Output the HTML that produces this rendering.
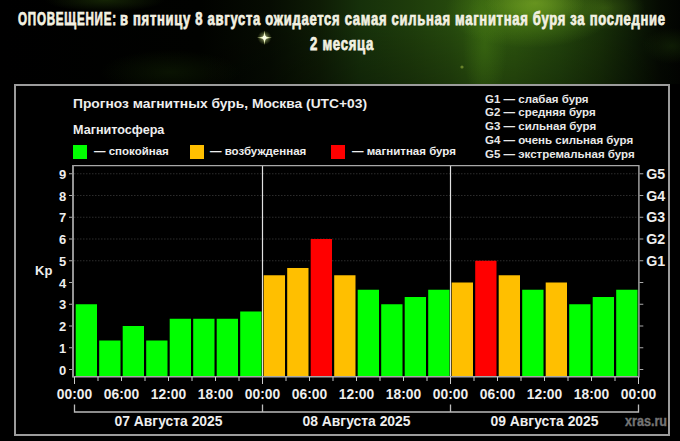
<!DOCTYPE html>
<html><head><meta charset="utf-8"><style>
html,body{margin:0;padding:0;background:#000;}
#root{position:relative;width:680px;height:441px;overflow:hidden;background:#000;font-family:"Liberation Sans",sans-serif;}
#hdr{position:absolute;left:0;top:0;width:680px;height:84px;
background:
radial-gradient(ellipse 50px 22px at 535px 3px, rgba(125,170,40,0.6), rgba(0,0,0,0) 100%),
radial-gradient(ellipse 85px 38px at 530px 10px, rgba(85,135,22,0.8), rgba(0,0,0,0) 100%),
radial-gradient(ellipse 40px 22px at 605px 8px, rgba(70,110,20,0.5), rgba(0,0,0,0) 100%),
radial-gradient(ellipse 22px 60px at 485px 45px, rgba(65,115,18,0.5), rgba(0,0,0,0) 100%),
radial-gradient(ellipse 60px 12px at 105px 0px, rgba(40,70,10,0.5), rgba(0,0,0,0) 100%),
radial-gradient(ellipse 70px 22px at 170px 72px, rgba(20,40,5,0.45), rgba(0,0,0,0) 100%),
radial-gradient(ellipse 30px 18px at 672px 46px, rgba(25,50,8,0.5), rgba(0,0,0,0) 100%),
linear-gradient(to bottom, rgba(0,0,0,0) 30%, rgba(0,0,0,0.25) 100%),
linear-gradient(to right, #000 0px, #010200 200px, #060c02 270px, #0e1c05 320px, #16300a 360px, #1e3c0b 410px, #25480d 450px, #2e580f 482px, #2c540e 515px, #22440c 560px, #183008 600px, #0c1a05 635px, #050a02 660px, #020401 680px);}
.ov{position:absolute;left:0;top:0;}
.h{position:absolute;left:0;width:680px;text-align:center;color:#f3f1e2;font-weight:bold;-webkit-text-stroke:0.75px #f3f1e2;font-size:18.5px;white-space:nowrap;}
.h span.a{position:absolute;top:0;transform-origin:0 0;}
text{font-family:"Liberation Sans",sans-serif;font-weight:bold;fill:#eee;}
.title{font-size:13.6px;}
.sub{font-size:12.6px;}
.lg{font-size:11.5px;}
.gl text{font-size:11.5px;fill:#e8e8e8;}
.ax{font-size:13px;}
.gx{font-size:14.2px;}
.xl{font-size:13.8px;}
.dl{font-size:13.9px;}
.kp{font-size:13px;}
.wm{font-size:14px;fill:#747474;stroke:#747474;stroke-width:0.35px;}
</style></head><body><div id="root">
<div id="hdr"></div>
<svg class="ov" width="680" height="90" style="position:absolute;left:0;top:0"><defs><radialGradient id="sg"><stop offset="0" stop-color="#ffffd0" stop-opacity="0.9"/><stop offset="1" stop-color="#c0e060" stop-opacity="0"/></radialGradient></defs>
<circle cx="264.5" cy="37.7" r="7" fill="url(#sg)" opacity="0.7"/>
<path d="M264.5 30.5 L265.6 36.6 L272 37.7 L265.6 38.8 L264.5 45 L263.4 38.8 L257 37.7 L263.4 36.6 Z" fill="#eaf5a8" opacity="0.75"/>
<path d="M264.5 33 L265.5 36.7 L269 37.7 L265.5 38.7 L264.5 42.5 L263.5 38.7 L260 37.7 L263.5 36.7 Z" fill="#f8ffd8"/>
<circle cx="264.5" cy="37.7" r="2" fill="#fbffe8"/>
<circle cx="462" cy="67" r="1.6" fill="#9ab040" opacity="0.6"/>
<circle cx="405" cy="20" r="1.2" fill="#9ab040" opacity="0.5"/>
</svg>
<div class="h" style="top:7.5px;"><span class="a" style="left:17.5px;letter-spacing:1.2px;transform:scaleX(0.628)">ОПОВЕЩЕНИЕ:</span><span class="a" style="left:119.5px;letter-spacing:1px;transform:scaleX(0.7045)">в пятницу 8 августа ожидается самая сильная магнитная буря за последние</span></div>
<div class="h" style="top:32.5px;"><span class="a" style="left:309.5px;letter-spacing:1px;transform:scaleX(0.711)">2 месяца</span></div>
<svg class="ov" width="680" height="441" viewBox="0 0 680 441">
<rect x="15" y="85" width="654" height="350" fill="#000" stroke="#9c9c9c" stroke-width="2"/>
<text x="73" y="107.5" class="title" textLength="294" lengthAdjust="spacingAndGlyphs">Прогноз магнитных бурь, Москва (UTC+03)</text>
<text x="73" y="133.5" class="sub">Магнитосфера</text>
<rect x="73" y="145" width="14" height="14" fill="#00ff00"/>
<text x="94" y="155.2" class="lg">— спокойная</text>
<rect x="190" y="145" width="14" height="14" fill="#ffbf00"/>
<text x="210" y="155.2" class="lg">— возбужденная</text>
<rect x="331" y="145" width="14" height="14" fill="#ff0000"/>
<text x="352" y="155.2" class="lg">— магнитная буря</text>
<g class="gl">
<text x="485" y="102.5">G1 — слабая буря</text>
<text x="485" y="116.3">G2 — средняя буря</text>
<text x="485" y="130.1">G3 — сильная буря</text>
<text x="485" y="143.9">G4 — очень сильная буря</text>
<text x="485" y="157.6">G5 — экстремальная буря</text>
</g>
<line x1="74" y1="260.75" x2="637" y2="260.75" stroke="#2c2c2c" stroke-width="1.2" stroke-dasharray="1.5 1.5"/><line x1="74" y1="239.00" x2="637" y2="239.00" stroke="#2c2c2c" stroke-width="1.2" stroke-dasharray="1.5 1.5"/><line x1="74" y1="217.25" x2="637" y2="217.25" stroke="#2c2c2c" stroke-width="1.2" stroke-dasharray="1.5 1.5"/><line x1="74" y1="195.50" x2="637" y2="195.50" stroke="#2c2c2c" stroke-width="1.2" stroke-dasharray="1.5 1.5"/><line x1="74" y1="173.75" x2="637" y2="173.75" stroke="#2c2c2c" stroke-width="1.2" stroke-dasharray="1.5 1.5"/>
<rect x="75.70" y="304.25" width="21.3" height="72.25" fill="#00ff00"/><rect x="99.20" y="340.51" width="21.3" height="35.99" fill="#00ff00"/><rect x="122.70" y="326.00" width="21.3" height="50.50" fill="#00ff00"/><rect x="146.20" y="340.51" width="21.3" height="35.99" fill="#00ff00"/><rect x="169.70" y="318.76" width="21.3" height="57.74" fill="#00ff00"/><rect x="193.20" y="318.76" width="21.3" height="57.74" fill="#00ff00"/><rect x="216.70" y="318.76" width="21.3" height="57.74" fill="#00ff00"/><rect x="240.20" y="311.49" width="21.3" height="65.01" fill="#00ff00"/><rect x="263.70" y="275.26" width="21.3" height="101.24" fill="#ffbf00"/><rect x="287.20" y="267.99" width="21.3" height="108.51" fill="#ffbf00"/><rect x="310.70" y="239.00" width="21.3" height="137.50" fill="#ff0000"/><rect x="334.20" y="275.26" width="21.3" height="101.24" fill="#ffbf00"/><rect x="357.70" y="289.74" width="21.3" height="86.76" fill="#00ff00"/><rect x="381.20" y="304.25" width="21.3" height="72.25" fill="#00ff00"/><rect x="404.70" y="297.01" width="21.3" height="79.49" fill="#00ff00"/><rect x="428.20" y="289.74" width="21.3" height="86.76" fill="#00ff00"/><rect x="451.70" y="282.50" width="21.3" height="94.00" fill="#ffbf00"/><rect x="475.20" y="260.75" width="21.3" height="115.75" fill="#ff0000"/><rect x="498.70" y="275.26" width="21.3" height="101.24" fill="#ffbf00"/><rect x="522.20" y="289.74" width="21.3" height="86.76" fill="#00ff00"/><rect x="545.70" y="282.50" width="21.3" height="94.00" fill="#ffbf00"/><rect x="569.20" y="304.25" width="21.3" height="72.25" fill="#00ff00"/><rect x="592.70" y="297.01" width="21.3" height="79.49" fill="#00ff00"/><rect x="616.20" y="289.74" width="21.3" height="86.76" fill="#00ff00"/>
<line x1="262.50" y1="165.5" x2="262.50" y2="376" stroke="#e0e0e0" stroke-width="1.2"/><line x1="450.50" y1="165.5" x2="450.50" y2="376" stroke="#e0e0e0" stroke-width="1.2"/>
<path d="M73 165.6 H638.9 V376.8 H73 Z" fill="none" stroke="#a8a8a8" stroke-width="1.4"/>
<line x1="73" y1="165" x2="73" y2="377.3" stroke="#9a9a9a" stroke-width="1.8"/>

<line x1="69" y1="369.50" x2="72" y2="369.50" stroke="#aaa" stroke-width="1"/><text x="66.2" y="374.70" text-anchor="end" class="ax">0</text><line x1="69" y1="347.75" x2="72" y2="347.75" stroke="#aaa" stroke-width="1"/><text x="66.2" y="352.95" text-anchor="end" class="ax">1</text><line x1="69" y1="326.00" x2="72" y2="326.00" stroke="#aaa" stroke-width="1"/><text x="66.2" y="331.20" text-anchor="end" class="ax">2</text><line x1="69" y1="304.25" x2="72" y2="304.25" stroke="#aaa" stroke-width="1"/><text x="66.2" y="309.45" text-anchor="end" class="ax">3</text><line x1="69" y1="282.50" x2="72" y2="282.50" stroke="#aaa" stroke-width="1"/><text x="66.2" y="287.70" text-anchor="end" class="ax">4</text><line x1="69" y1="260.75" x2="72" y2="260.75" stroke="#aaa" stroke-width="1"/><text x="66.2" y="265.95" text-anchor="end" class="ax">5</text><line x1="69" y1="239.00" x2="72" y2="239.00" stroke="#aaa" stroke-width="1"/><text x="66.2" y="244.20" text-anchor="end" class="ax">6</text><line x1="69" y1="217.25" x2="72" y2="217.25" stroke="#aaa" stroke-width="1"/><text x="66.2" y="222.45" text-anchor="end" class="ax">7</text><line x1="69" y1="195.50" x2="72" y2="195.50" stroke="#aaa" stroke-width="1"/><text x="66.2" y="200.70" text-anchor="end" class="ax">8</text><line x1="69" y1="173.75" x2="72" y2="173.75" stroke="#aaa" stroke-width="1"/><text x="66.2" y="178.95" text-anchor="end" class="ax">9</text>
<line x1="639.5" y1="369.50" x2="643.3" y2="369.50" stroke="#aaa" stroke-width="1"/><line x1="639.5" y1="347.75" x2="643.3" y2="347.75" stroke="#aaa" stroke-width="1"/><line x1="639.5" y1="326.00" x2="643.3" y2="326.00" stroke="#aaa" stroke-width="1"/><line x1="639.5" y1="304.25" x2="643.3" y2="304.25" stroke="#aaa" stroke-width="1"/><line x1="639.5" y1="282.50" x2="643.3" y2="282.50" stroke="#aaa" stroke-width="1"/><line x1="639.5" y1="260.75" x2="643.3" y2="260.75" stroke="#aaa" stroke-width="1"/><text x="646.3" y="265.85" class="gx">G1</text><line x1="639.5" y1="239.00" x2="643.3" y2="239.00" stroke="#aaa" stroke-width="1"/><text x="646.3" y="244.10" class="gx">G2</text><line x1="639.5" y1="217.25" x2="643.3" y2="217.25" stroke="#aaa" stroke-width="1"/><text x="646.3" y="222.35" class="gx">G3</text><line x1="639.5" y1="195.50" x2="643.3" y2="195.50" stroke="#aaa" stroke-width="1"/><text x="646.3" y="200.60" class="gx">G4</text><line x1="639.5" y1="173.75" x2="643.3" y2="173.75" stroke="#aaa" stroke-width="1"/><text x="646.3" y="178.85" class="gx">G5</text>
<line x1="74.50" y1="377" x2="74.50" y2="384" stroke="#ccc" stroke-width="1"/><text x="74.50" y="398.7" text-anchor="middle" class="xl">00:00</text><line x1="98.00" y1="377" x2="98.00" y2="381" stroke="#ccc" stroke-width="1"/><line x1="121.50" y1="377" x2="121.50" y2="381" stroke="#ccc" stroke-width="1"/><text x="121.50" y="398.7" text-anchor="middle" class="xl">06:00</text><line x1="145.00" y1="377" x2="145.00" y2="381" stroke="#ccc" stroke-width="1"/><line x1="168.50" y1="377" x2="168.50" y2="381" stroke="#ccc" stroke-width="1"/><text x="168.50" y="398.7" text-anchor="middle" class="xl">12:00</text><line x1="192.00" y1="377" x2="192.00" y2="381" stroke="#ccc" stroke-width="1"/><line x1="215.50" y1="377" x2="215.50" y2="381" stroke="#ccc" stroke-width="1"/><text x="215.50" y="398.7" text-anchor="middle" class="xl">18:00</text><line x1="239.00" y1="377" x2="239.00" y2="381" stroke="#ccc" stroke-width="1"/><line x1="262.50" y1="377" x2="262.50" y2="384" stroke="#ccc" stroke-width="1"/><text x="262.50" y="398.7" text-anchor="middle" class="xl">00:00</text><line x1="286.00" y1="377" x2="286.00" y2="381" stroke="#ccc" stroke-width="1"/><line x1="309.50" y1="377" x2="309.50" y2="381" stroke="#ccc" stroke-width="1"/><text x="309.50" y="398.7" text-anchor="middle" class="xl">06:00</text><line x1="333.00" y1="377" x2="333.00" y2="381" stroke="#ccc" stroke-width="1"/><line x1="356.50" y1="377" x2="356.50" y2="381" stroke="#ccc" stroke-width="1"/><text x="356.50" y="398.7" text-anchor="middle" class="xl">12:00</text><line x1="380.00" y1="377" x2="380.00" y2="381" stroke="#ccc" stroke-width="1"/><line x1="403.50" y1="377" x2="403.50" y2="381" stroke="#ccc" stroke-width="1"/><text x="403.50" y="398.7" text-anchor="middle" class="xl">18:00</text><line x1="427.00" y1="377" x2="427.00" y2="381" stroke="#ccc" stroke-width="1"/><line x1="450.50" y1="377" x2="450.50" y2="384" stroke="#ccc" stroke-width="1"/><text x="450.50" y="398.7" text-anchor="middle" class="xl">00:00</text><line x1="474.00" y1="377" x2="474.00" y2="381" stroke="#ccc" stroke-width="1"/><line x1="497.50" y1="377" x2="497.50" y2="381" stroke="#ccc" stroke-width="1"/><text x="497.50" y="398.7" text-anchor="middle" class="xl">06:00</text><line x1="521.00" y1="377" x2="521.00" y2="381" stroke="#ccc" stroke-width="1"/><line x1="544.50" y1="377" x2="544.50" y2="381" stroke="#ccc" stroke-width="1"/><text x="544.50" y="398.7" text-anchor="middle" class="xl">12:00</text><line x1="568.00" y1="377" x2="568.00" y2="381" stroke="#ccc" stroke-width="1"/><line x1="591.50" y1="377" x2="591.50" y2="381" stroke="#ccc" stroke-width="1"/><text x="591.50" y="398.7" text-anchor="middle" class="xl">18:00</text><line x1="615.00" y1="377" x2="615.00" y2="381" stroke="#ccc" stroke-width="1"/><line x1="638.50" y1="377" x2="638.50" y2="384" stroke="#ccc" stroke-width="1"/><text x="638.50" y="398.7" text-anchor="middle" class="xl">00:00</text>
<path d="M74.5 404.5 V412 H638.5 V404.5" fill="none" stroke="#bbb" stroke-width="1.3"/>
<line x1="262.5" y1="404.5" x2="262.5" y2="412" stroke="#bbb" stroke-width="1.3"/>
<line x1="450.5" y1="404.5" x2="450.5" y2="412" stroke="#bbb" stroke-width="1.3"/>
<text x="168.50" y="425.7" text-anchor="middle" class="dl">07 Августа 2025</text><text x="356.50" y="425.7" text-anchor="middle" class="dl">08 Августа 2025</text><text x="544.50" y="425.7" text-anchor="middle" class="dl">09 Августа 2025</text>
<text x="35" y="275.4" class="kp">Kp</text>
<text x="625" y="425.7" class="wm" textLength="42" lengthAdjust="spacingAndGlyphs">xras.ru</text>
</svg>
</div></body></html>
